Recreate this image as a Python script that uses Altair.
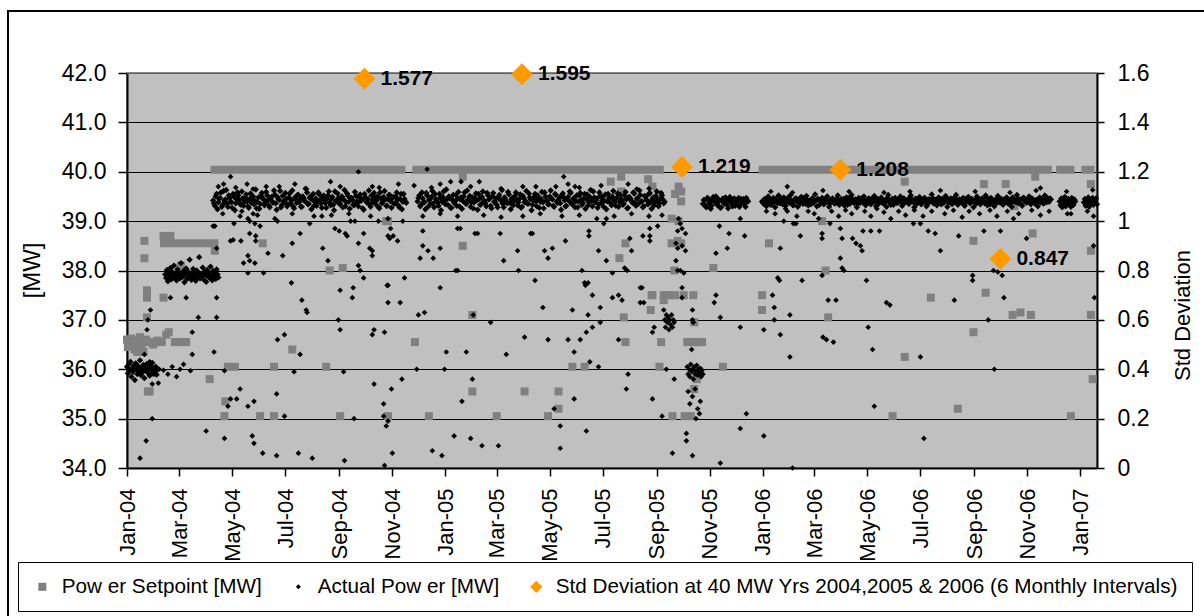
import altair as alt
import pandas as pd

FONT = "Liberation Sans"
BASE = pd.Timestamp("2004-01-01")

S_SET = "Pow er Setpoint [MW]"
S_ACT = "Actual Pow er [MW]"
S_STD = "Std Deviation at 40 MW Yrs 2004,2005 & 2006 (6 Monthly Intervals)"

# ---------------- Actual power: dense runs (day index from 2004-01-01, step in days, MW) -------------
jan04_start, jan04_step = 0, 1
jan04_mw = [36.05, 35.92, 36.10, 35.98, 36.15, 35.85, 36.02, 35.95, 36.08, 35.78, 36.12, 36.00,
            35.90, 36.06, 35.96, 36.18, 35.88, 36.03, 35.94, 36.09, 35.82, 36.01, 35.97, 36.11,
            35.93, 36.04, 35.87, 36.07, 35.99, 36.13, 35.91, 36.02, 35.96, 36.05, 35.89, 36.00]

feb04_start, feb04_step = 44, 1
feb04_mw = [37.92, 37.85, 38.01, 37.78, 37.95, 37.88, 38.05, 37.82, 37.97, 37.90,
            38.10, 37.86, 37.94, 37.80, 38.02, 37.89, 37.96, 37.84, 38.15, 37.91,
            37.87, 37.99, 37.76, 37.93, 38.04, 37.83, 37.98, 37.88, 38.22, 37.90,
            37.81, 37.95, 38.03, 37.86, 37.92, 37.79, 38.00, 37.87, 37.96, 38.27,
            37.84, 37.93, 37.89, 38.06, 37.82, 37.97, 37.91, 37.77, 38.01, 37.88,
            37.94, 37.85, 38.08, 37.90, 37.80, 37.99, 37.87, 37.95, 37.83, 38.02,
            37.92, 37.86]

band_a_start, band_a_step = 99, 2
band_a_mw = [39.42, 39.31, 39.55, 39.38, 39.47, 39.29, 39.61, 39.44, 39.35, 39.52,
             39.40, 39.27, 39.49, 39.36, 39.58, 39.43, 39.33, 39.46, 39.39, 39.54,
             39.30, 39.45, 39.37, 39.50, 39.41, 39.26, 39.48, 39.35, 39.57, 39.44,
             39.38, 39.52, 39.32, 39.46, 39.40, 39.62, 39.36, 39.49, 39.43, 39.28,
             39.51, 39.39, 39.45, 39.34, 39.56, 39.42, 39.30, 39.48, 39.37, 39.53,
             39.44, 39.29, 39.47, 39.40, 39.58, 39.35, 39.50, 39.43, 39.31, 39.46,
             39.39, 39.54, 39.36, 39.49, 39.42, 39.27, 39.52, 39.38, 39.45, 39.33,
             39.60, 39.41, 39.47, 39.35, 39.50, 39.44, 39.30, 39.56, 39.39, 39.46,
             39.43, 39.32, 39.51, 39.37, 39.48, 39.41, 39.26, 39.55, 39.40, 39.45,
             39.34, 39.52, 39.38, 39.47, 39.42, 39.29, 39.58, 39.36, 39.49, 39.44,
             39.31, 39.53, 39.40, 39.46, 39.35, 39.50, 39.43, 39.28, 39.55, 39.39,
             39.45, 39.37]
band_a2_start, band_a2_step = 100, 2
band_a2_mw = [39.36, 39.50, 39.24, 39.45, 39.58, 39.33, 39.41, 39.63, 39.29, 39.47,
              39.38, 39.55, 39.22, 39.44, 39.52, 39.35, 39.60, 39.31, 39.48, 39.40,
              39.27, 39.56, 39.43, 39.34, 39.64, 39.39, 39.25, 39.51, 39.46, 39.32,
              39.59, 39.42, 39.28, 39.49, 39.37, 39.54, 39.23, 39.45, 39.61, 39.33,
              39.40, 39.57, 39.30, 39.48, 39.36, 39.62, 39.26, 39.44, 39.53, 39.38,
              39.29, 39.50, 39.41, 39.65, 39.34, 39.47, 39.24, 39.55, 39.39, 39.31,
              39.58, 39.43, 39.27, 39.52, 39.36, 39.46, 39.60, 39.32, 39.49, 39.22,
              39.41, 39.56, 39.35, 39.44, 39.28, 39.63, 39.38, 39.51, 39.25, 39.47,
              39.33, 39.59, 39.40, 39.30, 39.54, 39.45, 39.23, 39.48, 39.37, 39.62,
              39.29, 39.42, 39.57, 39.34, 39.50, 39.26, 39.46, 39.39, 39.61, 39.31,
              39.44, 39.53, 39.27, 39.49, 39.36, 39.58, 39.32, 39.45, 39.24, 39.55,
              39.40]

band_b_start, band_b_step = 334, 2
band_b_mw = [39.40, 39.52, 39.33, 39.46, 39.38, 39.57, 39.29, 39.44, 39.49, 39.36,
             39.55, 39.41, 39.31, 39.47, 39.39, 39.60, 39.34, 39.45, 39.50, 39.27,
             39.43, 39.37, 39.53, 39.46, 39.30, 39.48, 39.41, 39.58, 39.35, 39.44,
             39.51, 39.38, 39.26, 39.47, 39.42, 39.55, 39.33, 39.49, 39.40, 39.36,
             39.57, 39.44, 39.31, 39.50, 39.39, 39.46, 39.28, 39.53, 39.42, 39.35,
             39.48, 39.40, 39.59, 39.37, 39.45, 39.32, 39.51, 39.43, 39.38, 39.54,
             39.29, 39.47, 39.41, 39.36, 39.56, 39.44, 39.33, 39.49, 39.40, 39.52,
             39.27, 39.45, 39.38, 39.58, 39.42, 39.34, 39.50, 39.46, 39.31, 39.55,
             39.39, 39.43, 39.36, 39.53, 39.48, 39.30, 39.44, 39.41, 39.57, 39.35,
             39.47, 39.40, 39.28, 39.52, 39.43, 39.37, 39.55, 39.45, 39.32, 39.49,
             39.41, 39.60, 39.38, 39.46, 39.34, 39.51, 39.42, 39.29, 39.54, 39.40,
             39.47, 39.36, 39.50, 39.43, 39.31, 39.56, 39.39, 39.45, 39.33, 39.52,
             39.44, 39.27, 39.48, 39.41, 39.58, 39.37, 39.46, 39.35, 39.53, 39.40,
             39.30, 39.49, 39.42, 39.55, 39.38, 39.45, 39.32, 39.51, 39.43, 39.36,
             39.57, 39.44, 39.39]
band_b2_start, band_b2_step = 335, 2
band_b2_mw = [39.47, 39.30, 39.58, 39.39, 39.24, 39.52, 39.43, 39.35, 39.61, 39.28,
              39.45, 39.37, 39.55, 39.22, 39.49, 39.41, 39.64, 39.33, 39.46, 39.27,
              39.53, 39.40, 39.31, 39.59, 39.44, 39.25, 39.50, 39.36, 39.62, 39.42,
              39.29, 39.48, 39.38, 39.56, 39.23, 39.45, 39.34, 39.60, 39.41, 39.30,
              39.52, 39.46, 39.26, 39.57, 39.39, 39.33, 39.49, 39.43, 39.63, 39.28,
              39.44, 39.36, 39.54, 39.24, 39.47, 39.40, 39.58, 39.32, 39.45, 39.27,
              39.51, 39.38, 39.61, 39.35, 39.48, 39.22, 39.43, 39.55, 39.30, 39.46,
              39.39, 39.59, 39.26, 39.50, 39.41, 39.34, 39.62, 39.44, 39.29, 39.53,
              39.37, 39.47, 39.23, 39.56, 39.42, 39.31, 39.49, 39.60, 39.35, 39.45,
              39.28, 39.52, 39.40, 39.57, 39.33, 39.46, 39.25, 39.54, 39.38, 39.63,
              39.30, 39.48, 39.43, 39.27, 39.58, 39.36, 39.50, 39.41, 39.24, 39.55,
              39.45, 39.32, 39.61, 39.39, 39.47, 39.29, 39.53, 39.42, 39.35, 39.59,
              39.26, 39.49, 39.44, 39.37, 39.56, 39.31, 39.46, 39.62, 39.40, 39.28,
              39.51, 39.43, 39.34, 39.57, 39.25, 39.48, 39.38, 39.60, 39.30, 39.45,
              39.52, 39.36]

band_c_start, band_c_step = 662, 2
band_c_mw = [39.35, 39.42, 39.28, 39.46, 39.38, 39.31, 39.49, 39.40, 39.34, 39.44,
             39.27, 39.41, 39.37, 39.48, 39.33, 39.43, 39.39, 39.30, 39.46, 39.36,
             39.42, 39.29, 39.45, 39.38, 39.34, 39.47, 39.40]
band_c2_start, band_c2_step = 663, 2
band_c2_mw = [39.43, 39.30, 39.47, 39.36, 39.25, 39.44, 39.39, 39.50, 39.32, 39.41,
              39.28, 39.46, 39.35, 39.42, 39.26, 39.49, 39.37, 39.44, 39.31, 39.40,
              39.47, 39.33, 39.39, 39.45, 39.29, 39.42]

band_d_start, band_d_step = 730, 2
band_d_mw = [39.40, 39.35, 39.44, 39.38, 39.47, 39.33, 39.42, 39.39, 39.45, 39.36,
             39.41, 39.46, 39.34, 39.43, 39.38, 39.48, 39.37, 39.42, 39.32, 39.45,
             39.39, 39.44, 39.36, 39.41, 39.47, 39.35, 39.43, 39.40, 39.34, 39.46,
             39.38, 39.42, 39.45, 39.33, 39.40, 39.44, 39.37, 39.48, 39.39, 39.35,
             39.43, 39.41, 39.36, 39.46, 39.34, 39.42, 39.38, 39.45, 39.40, 39.33,
             39.47, 39.39, 39.44, 39.36, 39.41, 39.35, 39.43, 39.46, 39.38, 39.42,
             39.34, 39.45, 39.40, 39.37, 39.48, 39.39, 39.43, 39.35, 39.41, 39.44,
             39.36, 39.42, 39.47, 39.38, 39.33, 39.45, 39.40, 39.43, 39.37, 39.46,
             39.39, 39.34, 39.44, 39.41, 39.36, 39.48, 39.42, 39.38, 39.45, 39.35,
             39.40, 39.43, 39.37, 39.46, 39.39, 39.33, 39.44, 39.41, 39.47, 39.36,
             39.42, 39.38, 39.45, 39.34, 39.40, 39.43, 39.48, 39.37, 39.41, 39.35,
             39.46, 39.39, 39.44, 39.36, 39.42, 39.38, 39.33, 39.45, 39.40, 39.47,
             39.37, 39.43, 39.41, 39.35, 39.46, 39.39, 39.44, 39.42, 39.36, 39.48,
             39.38, 39.34, 39.45, 39.40, 39.43, 39.37, 39.47, 39.41, 39.35, 39.44,
             39.39, 39.46, 39.42, 39.36, 39.48, 39.40, 39.38, 39.45, 39.43, 39.34,
             39.47, 39.41, 39.37, 39.44, 39.39, 39.46, 39.42, 39.35, 39.43, 39.40,
             39.38, 39.45, 39.36, 39.42, 39.47, 39.39, 39.44]
band_d2_start, band_d2_step = 731, 2
band_d2_mw = [39.37, 39.45, 39.30, 39.50, 39.41, 39.34, 39.47, 39.28, 39.43, 39.52,
              39.36, 39.40, 39.48, 39.31, 39.44, 39.38, 39.53, 39.33, 39.42, 39.46,
              39.29, 39.39, 39.49, 39.35, 39.43, 39.51, 39.32, 39.41, 39.45, 39.37,
              39.54, 39.30, 39.44, 39.40, 39.47, 39.34, 39.38, 39.50, 39.29, 39.43,
              39.46, 39.36, 39.41, 39.52, 39.33, 39.45, 39.39, 39.31, 39.48, 39.42,
              39.35, 39.53, 39.40, 39.44, 39.28, 39.47, 39.37, 39.43, 39.50, 39.32,
              39.39, 39.46, 39.34, 39.41, 39.51, 39.30, 39.45, 39.38, 39.48, 39.36,
              39.42, 39.29, 39.53, 39.40, 39.44, 39.33, 39.47, 39.37, 39.41, 39.50,
              39.31, 39.46, 39.39, 39.43, 39.35, 39.52, 39.42, 39.28, 39.45, 39.38,
              39.49, 39.34, 39.41, 39.47, 39.30, 39.44, 39.40, 39.54, 39.36, 39.43,
              39.32, 39.48, 39.39, 39.45, 39.37, 39.51, 39.29, 39.42, 39.46, 39.35,
              39.40, 39.53, 39.33, 39.44, 39.38, 39.47, 39.31, 39.41, 39.49, 39.36,
              39.45, 39.28, 39.43, 39.50, 39.39, 39.34, 39.46, 39.40, 39.52, 39.32,
              39.42, 39.47, 39.37, 39.30, 39.44, 39.51, 39.38, 39.45, 39.33, 39.41,
              39.48, 39.35, 39.43, 39.29, 39.46, 39.40, 39.53, 39.36, 39.44, 39.31,
              39.47, 39.39, 39.42, 39.50, 39.34, 39.45, 39.37, 39.43, 39.30, 39.48,
              39.41, 39.36, 39.52, 39.38, 39.44, 39.46]

band_e_start, band_e_step = 1072, 1
band_e_mw = [39.40, 39.32, 39.46, 39.28, 39.43, 39.36, 39.49, 39.30, 39.41, 39.37,
             39.45, 39.34, 39.42, 39.29, 39.47, 39.38, 39.33, 39.44, 39.40]

band_f_start, band_f_step = 1100, 1
band_f_mw = [39.38, 39.45, 39.31, 39.42, 39.35, 39.48, 39.29, 39.40, 39.44,
             39.36, 39.47, 39.33, 39.41, 39.39, 39.46, 39.34]

# ---------------- Actual power: scattered readings (day index, MW) -------------
act_2004 = [(15, 34.20), (22, 34.55), (29, 35.00), (29, 35.70), (20, 36.30), (23, 36.80), (24, 37.00),
            (27, 37.20), (50, 37.45), (68, 37.45), (73, 35.97), (82, 37.05), (91, 34.75), (75, 36.75),
            (75, 36.30), (100, 36.35), (103, 37.05), (103, 37.45), (101, 38.90), (103, 38.45),
            (42, 35.98), (47, 35.90), (52, 36.05), (61, 36.00), (65, 36.10), (57, 35.85), (37, 36.00),
            (33, 35.95), (36, 35.72), (31, 35.90), (26, 36.15),
            (112, 35.97), (112, 34.60), (116, 35.25), (119, 35.40), (126, 35.40), (130, 35.60),
            (139, 35.25), (146, 35.35), (144, 34.65), (146, 34.50), (156, 34.30), (172, 34.25),
            (173, 36.60), (181, 36.70), (172, 35.50), (181, 35.05), (197, 34.30), (213, 34.20),
            (199, 36.30), (192, 35.95), (201, 37.40), (206, 37.20), (207, 37.15), (243, 37.00),
            (245, 36.80), (245, 37.60), (249, 35.95), (250, 34.15), (261, 35.00), (259, 37.45),
            (282, 36.70), (284, 36.80), (284, 35.70), (296, 36.75), (300, 37.35), (300, 37.70),
            (295, 35.30), (295, 35.05), (298, 34.85), (300, 34.95), (296, 34.05), (304, 35.60),
            (305, 34.30),
            (119, 39.90), (111, 39.75), (138, 39.75), (160, 39.70), (193, 39.75), (234, 39.80),
            (266, 40.00), (282, 39.70), (312, 39.75),
            (99, 38.90), (119, 38.60), (122, 38.62), (131, 38.60), (123, 38.95), (132, 39.20),
            (139, 39.05), (141, 39.00), (145, 39.15), (147, 38.95), (141, 38.75), (148, 38.70),
            (148, 38.60), (153, 38.90), (139, 38.30), (141, 38.20), (147, 38.15), (139, 37.95),
            (134, 38.15), (157, 37.95), (173, 39.00), (162, 38.35), (179, 38.30), (189, 37.75),
            (190, 38.55), (199, 38.75), (210, 38.95), (224, 39.10), (225, 38.45), (231, 38.20),
            (239, 38.85), (244, 38.80), (251, 38.75), (253, 38.70), (257, 39.00), (262, 39.00),
            (266, 38.55), (266, 38.10), (268, 38.00), (272, 37.85), (260, 37.65), (272, 38.75),
            (279, 38.45), (282, 38.40), (282, 38.30), (289, 39.00), (300, 38.70), (302, 38.65),
            (299, 37.70),
            (110, 39.15), (130, 39.10), (150, 39.12), (170, 39.05), (190, 39.15), (215, 39.10),
            (235, 39.12), (255, 39.15), (280, 39.10), (300, 39.05),
            (105, 39.70), (125, 39.68), (145, 39.65), (175, 39.70), (205, 39.66), (245, 39.70),
            (290, 39.68)]

act_2005 = [(314, 37.35), (316, 35.80), (333, 36.00), (335, 37.10), (342, 37.15), (360, 37.65),
            (367, 36.35), (365, 36.00), (376, 34.65), (385, 35.35), (390, 36.35), (397, 35.80),
            (398, 37.10), (395, 34.60), (408, 34.45), (351, 34.35), (362, 34.25), (418, 36.95),
            (427, 34.45), (436, 36.30), (457, 36.65), (478, 37.25), (484, 36.60), (491, 35.20),
            (498, 34.85), (498, 34.40), (507, 36.60), (512, 37.20), (514, 36.35), (514, 35.40),
            (521, 36.60), (528, 36.75), (528, 34.75), (530, 37.10), (532, 36.15), (535, 36.85),
            (535, 37.50), (526, 37.75), (530, 37.75), (542, 36.05), (544, 37.25), (544, 36.95),
            (558, 37.45), (565, 37.50), (569, 37.40), (565, 36.60), (574, 35.60), (576, 35.90),
            (590, 37.65), (590, 37.35), (594, 37.35), (604, 35.40), (604, 36.75), (606, 36.85),
            (615, 35.05), (627, 34.30), (629, 35.80), (620, 36.00),
            (345, 40.05), (502, 39.90), (360, 39.75), (372, 39.80), (384, 39.80), (405, 39.80),
            (455, 39.70), (493, 39.70), (507, 39.75), (515, 39.70), (576, 39.75), (586, 39.65),
            (303, 38.85), (306, 38.70), (311, 38.60), (340, 38.80), (340, 38.50), (346, 38.40),
            (352, 38.25), (337, 38.25), (360, 38.45), (380, 38.85), (383, 38.85), (400, 38.75),
            (403, 38.75), (378, 38.00), (380, 38.00), (319, 37.85), (429, 38.75), (433, 38.20),
            (449, 38.40), (450, 38.00), (464, 38.75), (466, 38.75), (469, 37.80), (480, 38.40),
            (484, 38.25), (489, 38.45), (504, 38.60), (523, 38.00), (527, 37.70), (531, 38.80),
            (531, 38.70), (542, 38.40), (551, 38.20), (558, 37.95), (572, 38.05), (575, 38.00),
            (580, 38.40), (578, 38.65), (592, 37.65), (593, 38.70), (601, 38.85), (601, 38.70),
            (601, 38.60), (610, 38.90), (548, 38.95), (551, 39.05), (317, 39.00),
            (340, 39.10), (360, 39.15), (380, 39.10), (410, 39.12), (430, 39.08), (455, 39.10),
            (475, 39.15), (500, 39.10), (520, 39.12), (540, 39.05), (560, 39.10), (580, 39.15),
            (600, 39.10), (615, 39.12),
            (330, 39.72), (350, 39.68), (395, 39.70), (430, 39.66), (470, 39.70), (520, 39.68),
            (545, 39.72), (600, 39.66),
            (634, 39.05), (636, 38.95), (638, 38.85), (642, 38.75), (633, 38.80), (631, 38.55),
            (633, 38.45), (638, 38.50), (642, 38.40), (631, 38.20), (633, 38.00), (636, 38.00),
            (640, 37.95), (638, 37.65), (638, 37.45),
            (617, 37.20), (618, 37.00), (619, 36.85), (620, 37.10), (621, 36.95), (622, 37.05),
            (623, 36.80), (624, 37.00), (625, 36.90), (626, 37.10), (627, 36.85), (628, 37.00),
            (629, 36.95),
            (644, 36.05), (645, 35.90), (646, 36.00), (647, 35.85), (648, 36.10), (649, 35.95),
            (650, 36.00), (651, 35.80), (652, 36.05), (653, 35.90), (654, 35.97), (655, 36.08),
            (656, 35.88), (657, 36.00), (658, 35.93), (659, 36.02), (660, 35.85), (661, 35.98),
            (662, 35.90),
            (645, 35.55), (647, 35.30), (650, 35.45), (653, 35.60), (656, 35.20), (659, 35.35),
            (649, 36.40), (643, 34.70), (643, 34.55), (650, 34.25), (654, 35.00), (658, 35.10),
            (650, 37.20), (650, 37.00), (651, 36.95),
            (677, 37.50), (675, 37.35), (682, 37.05), (705, 36.85), (712, 35.10), (705, 34.80),
            (682, 34.10), (681, 38.90), (692, 38.75), (710, 38.70), (690, 38.45), (677, 38.35),
            (705, 39.05)]

act_2006 = [(732, 34.65), (742, 37.50), (744, 37.25), (744, 37.00), (732, 36.80), (751, 36.70),
            (762, 37.10), (762, 36.25), (765, 34.00), (748, 37.85), (750, 37.80), (751, 38.45),
            (755, 39.00), (769, 38.95),
            (776, 37.80), (850, 37.80), (806, 37.40), (815, 37.40), (800, 36.65), (804, 36.60),
            (812, 36.55), (852, 36.85), (857, 36.40), (859, 35.25), (873, 37.35), (877, 37.30),
            (912, 36.25), (916, 34.60), (951, 37.40), (972, 37.80), (990, 37.00), (997, 36.00),
            (1008, 37.45), (1112, 37.45),
            (759, 39.70), (759, 39.20), (766, 38.95), (774, 38.70), (799, 38.75), (799, 38.65),
            (808, 38.95), (820, 38.85), (822, 38.65), (820, 38.25), (822, 38.05), (824, 38.00),
            (834, 38.65), (838, 38.55), (843, 38.50), (845, 38.40), (846, 38.80), (855, 38.80),
            (865, 38.80), (799, 37.90), (904, 38.95), (912, 38.95), (921, 38.80), (929, 38.75),
            (935, 38.40), (956, 38.70), (972, 37.90), (985, 38.80), (1004, 38.80), (1006, 37.90),
            (1019, 39.05), (1034, 38.65), (1081, 39.15), (1111, 39.10), (1111, 38.50),
            (996, 38.00), (1001, 37.97),
            (735, 39.20), (745, 39.15), (757, 39.25), (770, 39.10), (783, 39.20), (790, 39.15),
            (795, 39.05), (810, 39.20), (818, 39.10), (826, 39.22), (833, 39.15), (848, 39.20),
            (855, 39.10), (862, 39.25), (870, 39.18), (878, 39.05), (887, 39.20), (895, 39.12),
            (905, 39.22), (915, 39.10), (925, 39.20), (940, 39.15), (950, 39.22), (960, 39.08),
            (968, 39.20), (980, 39.15), (992, 39.22), (1000, 39.10), (1012, 39.20), (1025, 39.15),
            (1040, 39.22), (1050, 39.12), (1060, 39.20), (1085, 39.15), (1104, 39.20),
            (740, 39.60), (765, 39.58), (800, 39.62), (830, 39.60), (870, 39.58), (900, 39.60),
            (935, 39.62), (975, 39.60), (1015, 39.58), (1045, 39.62), (1080, 39.60), (1110, 39.63),
            (1050, 39.67)]

# ---------------- Power setpoint ----------------
# long runs held at one setpoint (start day, end day, MW)
sp_run_start = [96, 328, 726, 1068, 1097, 38]
sp_run_end = [320, 617, 1063, 1089, 1112, 105]
sp_run_mw = [40.04, 40.04, 40.04, 40.04, 40.04, 38.55]

# individual setpoint readings (day index, MW)
sp_points = [(0, 36.60), (1, 36.45), (3, 36.55), (5, 36.62), (7, 36.50), (9, 36.40), (11, 36.58),
             (13, 36.50), (15, 36.65), (17, 36.45), (19, 36.35), (12, 36.35), (20, 36.55), (22, 36.60),
             (23, 37.60), (23, 37.45), (23, 37.05), (24, 35.55), (26, 35.55), (20, 38.60), (20, 38.25),
             (27, 36.55), (30, 36.50), (33, 36.55), (35, 36.58), (40, 36.55), (45, 36.70), (48, 36.75),
             (42, 37.45), (42, 38.70), (50, 38.70), (55, 36.55), (60, 36.55), (65, 36.55), (68, 36.55),
             (62, 38.10),
             (101, 38.40), (95, 35.80), (116, 36.05), (124, 36.05), (113, 35.35), (112, 35.05),
             (153, 35.05), (169, 36.05), (169, 35.05), (190, 36.40), (229, 36.05), (245, 35.05),
             (300, 35.05), (233, 38.00), (248, 38.05), (300, 39.00), (156, 38.55),
             (331, 36.55), (347, 35.05), (397, 37.10), (397, 35.55), (425, 35.05), (457, 35.55),
             (484, 35.05), (496, 35.55), (496, 35.20), (512, 36.05), (526, 36.05), (571, 37.05),
             (573, 36.55), (603, 37.50), (602, 37.20), (617, 37.50), (625, 37.50), (617, 37.40),
             (614, 36.55), (612, 36.05), (627, 35.05), (641, 35.05), (648, 35.05), (651, 37.50),
             (644, 36.55), (646, 36.55), (649, 36.55), (652, 36.55), (655, 36.55), (658, 36.55),
             (661, 36.55), (655, 35.80), (652, 35.60), (652, 36.95), (685, 36.05), (730, 37.50),
             (730, 37.20),
             (386, 39.90), (386, 38.50), (556, 39.80), (568, 39.90), (568, 39.60), (599, 39.85),
             (604, 39.70), (573, 38.55), (566, 38.25), (674, 38.05), (738, 38.55), (298, 39.00),
             (604, 37.50), (620, 37.50), (630, 37.50), (640, 37.50),
             (634, 39.70), (630, 39.55), (637, 39.60), (637, 39.40), (626, 39.05), (634, 39.00),
             (637, 38.55), (626, 38.55), (633, 38.60), (629, 38.00),
             (806, 37.05), (880, 35.05), (894, 36.25), (924, 37.45), (955, 35.20), (973, 36.75),
             (987, 37.55), (1018, 37.10), (1027, 37.15), (1039, 37.10), (1085, 35.05), (1108, 37.10),
             (1110, 35.80),
             (1044, 39.90), (894, 39.80), (985, 39.75), (1010, 39.75), (1108, 39.75), (1020, 39.30),
             (799, 39.00), (973, 38.60), (1041, 38.75), (1108, 38.40), (803, 38.00)]

# ---------------- Std deviation at 40 MW (6-monthly) ----------------
std_day = [273, 454, 638, 820, 1004]
std_val = [1.577, 1.595, 1.219, 1.208, 0.847]

# ---------------- axis ticks ----------------
mw_ticks = [34, 35, 36, 37, 38, 39, 40, 41, 42]
std_ticks = [0, 0.2, 0.4, 0.6, 0.8, 1, 1.2, 1.4, 1.6]
month_ticks = [(2004, 1), (2004, 3), (2004, 5), (2004, 7), (2004, 9), (2004, 11),
               (2005, 1), (2005, 3), (2005, 5), (2005, 7), (2005, 9), (2005, 11),
               (2006, 1), (2006, 3), (2006, 5), (2006, 7), (2006, 9), (2006, 11), (2007, 1)]


def day_str(d):
    return (BASE + pd.Timedelta(days=int(d))).strftime("%Y-%m-%d")


runs = [(jan04_start, jan04_step, jan04_mw), (feb04_start, feb04_step, feb04_mw),
        (band_a_start, band_a_step, band_a_mw), (band_a2_start, band_a2_step, band_a2_mw),
        (band_b_start, band_b_step, band_b_mw), (band_b2_start, band_b2_step, band_b2_mw),
        (band_c_start, band_c_step, band_c_mw), (band_c2_start, band_c2_step, band_c2_mw),
        (band_d_start, band_d_step, band_d_mw), (band_d2_start, band_d2_step, band_d2_mw),
        (band_e_start, band_e_step, band_e_mw), (band_f_start, band_f_step, band_f_mw)]
run_rows = []
for start, step, vals in runs:
    for i, v in enumerate(vals):
        run_rows.append({"date": day_str(start + i * step), "mw": v, "series": S_ACT})
act_run_df = pd.DataFrame(run_rows)
act_out_df = pd.DataFrame([{"date": day_str(d), "mw": v, "series": S_ACT}
                           for d, v in act_2004 + act_2005 + act_2006])

sp_df = pd.DataFrame([{"date": day_str(d), "mw": v, "series": S_SET} for d, v in sp_points])
run_df = pd.DataFrame({"date": [day_str(d) for d in sp_run_start],
                       "end": [day_str(d) for d in sp_run_end],
                       "mw": sp_run_mw})
std_df = pd.DataFrame({"date": [day_str(d) for d in std_day], "sd": std_val,
                       "label": [f"{v:.3f}" for v in std_val], "series": S_STD})

# ---------------- scales / axes ----------------
x_scale = alt.Scale(type="utc", nice=False,
                    domain=[alt.DateTime(year=2004, month=1, date=1, utc=True),
                            alt.DateTime(year=2007, month=1, date=20, utc=True)])
x_axis = alt.Axis(values=[alt.DateTime(year=y, month=m, date=1, utc=True) for y, m in month_ticks],
                  labelExpr="utcFormat(datum.value, '%b-%y')", labelAngle=270, labelFontSize=22,
                  labelFont=FONT, labelColor="black", labelPadding=12, labelOverlap=False,
                  labelFlush=False, tickSize=8, tickColor="black", tickWidth=1.5,
                  domainColor="black", domainWidth=2, grid=False, title=None)
mw_scale = alt.Scale(domain=[34, 42], nice=False, zero=False)
mw_axis = alt.Axis(values=mw_ticks, format=".1f", labelFontSize=23, labelFont=FONT,
                   labelColor="black", labelPadding=12, tickSize=9, tickColor="black",
                   tickWidth=1.5, domainColor="black", domainWidth=2, grid=True,
                   gridColor="black", gridWidth=1.2, title="[MW]", titleFont=FONT,
                   titleFontSize=24, titleFontWeight="normal", titleColor="black",
                   titleAngle=270, titleAlign="center", titleBaseline="middle",
                   titleX=-95, titleY=197)
std_scale = alt.Scale(domain=[0, 1.6], nice=False, zero=True)
std_axis = alt.Axis(orient="right", values=std_ticks, format="~g", labelFontSize=23,
                    labelFont=FONT, labelColor="black", labelPadding=13, tickSize=7,
                    tickColor="black", tickWidth=1.5, domainColor="black", domainWidth=2,
                    grid=False, title="Std Deviation", titleFont=FONT, titleFontSize=22,
                    titleFontWeight="normal", titleColor="black", titleAngle=270,
                    titleAlign="center", titleBaseline="middle", titleX=85, titleY=242)

dom = [S_SET, S_ACT, S_STD]
legend = alt.Legend(orient="none", legendX=-109, legendY=489, direction="horizontal",
                    columns=3, title=None, labelFont=FONT, labelFontSize=20.7, labelLimit=900,
                    labelColor="black", padding=14, columnPadding=26, labelOffset=9,
                    strokeColor="black", fillColor="white", symbolStrokeWidth=0)
color_enc = alt.Color("series:N", scale=alt.Scale(domain=dom, range=["#808080", "#000000", "#FF9900"]),
                      legend=legend)
shape_enc = alt.Shape("series:N", scale=alt.Scale(domain=dom, range=["square", "diamond", "diamond"]),
                      legend=legend)
size_enc = alt.Size("series:N", scale=alt.Scale(type="ordinal", domain=dom, range=[64, 25, 150]),
                    legend=legend)

X = alt.X("date:T", scale=x_scale, axis=x_axis)
Y = alt.Y("mw:Q", scale=mw_scale, axis=mw_axis)

runs_layer = alt.Chart(run_df).mark_rule(color="#808080", strokeWidth=8, strokeCap="butt").encode(
    x=X, x2="end:T", y=Y)

sp_layer = alt.Chart(sp_df).mark_point(filled=True, opacity=1).encode(
    x=X, y=Y, color=color_enc, shape=shape_enc, size=size_enc)

act_run_layer = alt.Chart(act_run_df).mark_point(filled=True, opacity=1, size=40).encode(
    x=X, y=Y, color=color_enc, shape=shape_enc)

act_out_layer = alt.Chart(act_out_df).mark_point(filled=True, opacity=1, size=32).encode(
    x=X, y=Y, color=color_enc, shape=shape_enc)

YS = alt.Y("sd:Q", scale=std_scale, axis=std_axis)
std_pts = alt.Chart(std_df).mark_point(filled=True, opacity=1, size=480).encode(
    x=X, y=YS, color=color_enc, shape=shape_enc)

std_txt = alt.Chart(std_df).mark_text(align="left", baseline="middle", dx=16, font=FONT,
                                      fontSize=21, fontWeight="bold", color="black").encode(
    x=X, y=YS, text="label:N")

frame = alt.Chart(pd.DataFrame({"k": [0]})).mark_rect(
    fillOpacity=0, stroke="black", strokeWidth=2).encode(
    x=alt.value(-119), x2=alt.value(1100), y=alt.value(-62), y2=alt.value(560))

top_edge = alt.Chart(pd.DataFrame({"k": [0]})).mark_rule(color="#808080", strokeWidth=1.5).encode(
    x=alt.value(0), x2=alt.value(970), y=alt.value(0))

mw_part = alt.layer(runs_layer, sp_layer, act_run_layer, act_out_layer)
std_part = alt.layer(std_pts, std_txt)

chart = alt.layer(frame, top_edge, mw_part, std_part).resolve_scale(y="independent").properties(
    width=970, height=395,
    autosize=alt.AutoSizeParams(type="none"),
    padding={"left": 127, "top": 73, "right": 107, "bottom": 148},
    background="white",
).configure_view(fill="#C0C0C0", stroke="#808080", strokeWidth=1.5)

chart.save("out.html", embed_options={"renderer": "svg", "actions": False})
